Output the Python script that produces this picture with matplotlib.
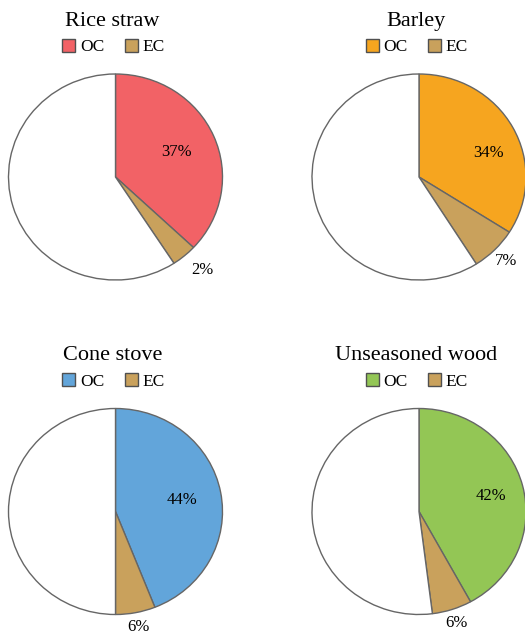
import numpy as np
import matplotlib.pyplot as plt
from matplotlib.patches import Patch

plt.rcParams['font.family'] = ['Liberation Serif', 'DejaVu Serif']

# DATA
titles = ['Rice straw', 'Barley', 'Cone stove', 'Unseasoned wood']
oc = [37, 34, 44, 42]
ec = [3.8, 7, 6, 6]          # slice size as drawn
oc_labels = ['37%', '34%', '44%', '42%']
ec_labels = ['2%', '7%', '6%', '6%']
oc_colors = ['#F26266', '#F6A51F', '#62A5DA', '#93C655']
ec_color = '#C9A15C'

W, H = 525, 636
fig = plt.figure(figsize=(W / 100, H / 100), dpi=100)

# pie centres (px) and radii
centres = [(115.5, 177), (419, 177), (115.5, 511.5), (419, 511.5)]
rx, ry = 107, 103
# label placement tweaks (radius fraction, angle shift in degrees)
oc_lab = [(0.62, 0), (0.69, -9), (0.63, -1), (0.69, -2)]
ec_lab = [(1.22, 2), (1.15, 0), (1.14, 0), (1.14, 0)]

for i, (cx, cy) in enumerate(centres):
    ax = fig.add_axes([(cx - rx) / W, (H - cy - ry) / H, 2 * rx / W, 2 * ry / H])
    rest = 100 - oc[i] - ec[i]
    ax.pie([oc[i], ec[i], rest], colors=[oc_colors[i], ec_color, 'white'],
           startangle=90, counterclock=False, radius=1,
           wedgeprops=dict(edgecolor='#666666', linewidth=1.0))
    ax.set_xlim(-1, 1)
    ax.set_ylim(-1, 1)
    ax.set_aspect('auto')

    # labels
    d, da = oc_lab[i]
    a = np.deg2rad(90 - 3.6 * oc[i] / 2 + da)
    ax.text(d * np.cos(a), d * np.sin(a), oc_labels[i], ha='center', va='center', fontsize=12)
    d, da = ec_lab[i]
    a = np.deg2rad(90 - 3.6 * (oc[i] + ec[i] / 2) + da)
    ax.text(d * np.cos(a), d * np.sin(a), ec_labels[i], ha='center', va='center',
            fontsize=12, clip_on=False)

    # title + legend
    fig.text((cx - 3) / W, 1 - (cy - 151) / H, titles[i], ha='center', va='baseline', fontsize=16)
    handles = [Patch(facecolor=oc_colors[i], edgecolor='#505050'),
               Patch(facecolor=ec_color, edgecolor='#505050')]
    fig.legend(handles, ['OC', 'EC'], loc='center', ncol=2, frameon=False,
               bbox_to_anchor=((cx - 2) / W, 1 - (cy - 130) / H), fontsize=12.5,
               handlelength=0.75, handleheight=0.75, handletextpad=0.25,
               columnspacing=1.2, borderpad=0)

fig.savefig('out.png', dpi=100)
